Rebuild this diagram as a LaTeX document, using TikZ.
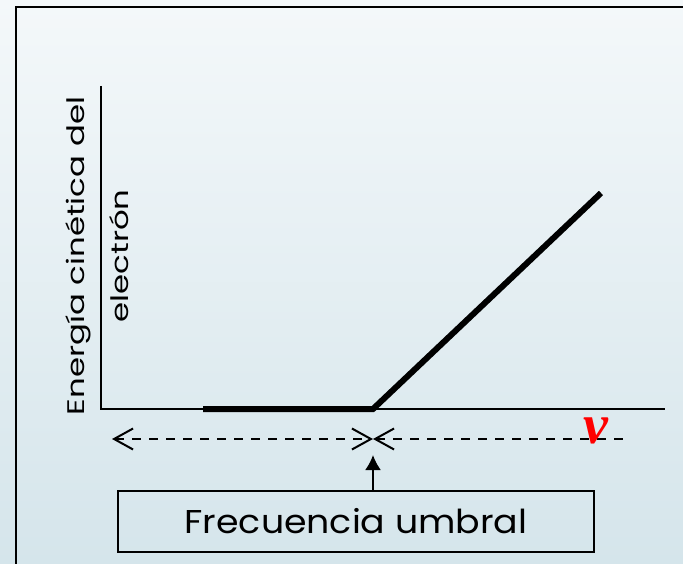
\documentclass[tikz,border=0pt]{standalone}
\usepackage{fontspec}
\setmainfont{Poppins}
\newfontfamily\anchaA[FakeStretch=1.1]{Poppins}
\newfontfamily\anchaB[FakeStretch=1.35]{Poppins}
\newfontfamily\griega{Liberation Serif}
\usetikzlibrary{arrows.meta}
\definecolor{bgtop}{HTML}{F4F8FA}
\definecolor{bgbot}{HTML}{D5E5EB}
\tikzset{
  axis/.style={line width=2pt},
  curva/.style={line width=6pt,line join=miter},
  flecha/.style={line width=2pt,dash pattern=on 9pt off 8pt},
  barb/.tip={Straight Barb[length=19pt,width=21pt,line width=2pt]}
}
\begin{document}
\begin{tikzpicture}[x=1pt,y=-1pt]
\shade[top color=bgtop,bottom color=bgbot] (0,0) rectangle (683,564);
\useasboundingbox (0,0) rectangle (683,564);
\draw[line width=2.5pt] (16,580) -- (16,7) -- (700,7);
\coordinate (O) at (101,409);
\coordinate (ytop) at (101,86);
\coordinate (xend) at (665,409);
\coordinate (a) at (203,409);
\coordinate (u) at (373,409);
\coordinate (b) at (601,193);
\coordinate (izq) at (112,439);
\coordinate (umb) at (373,439);
\coordinate (der) at (629,439);
\coordinate (pie) at (373,491);
\coordinate (punta) at (373,455);
\draw[axis] (ytop) -- (O) -- (xend);
\draw[curva] (a) -- (u) -- (b);
\draw[flecha,barb-barb] (izq) -- (umb);
\draw[flecha,barb-] (umb) -- (der);
\node[red,font=\griega\bfseries\itshape\fontsize{56}{56}\selectfont] (nu) at (596,431) {ν};
\node[draw,line width=2.5pt,minimum width=476pt,minimum height=61pt,
  font=\anchaA\fontsize{33}{33}\selectfont] (caja) at (356,521.5) {Frecuencia umbral};
\draw[line width=2pt,-{Latex[length=15pt,width=16pt]}] (pie) -- (punta);
\node[rotate=90,align=center,font=\anchaB\fontsize{24}{44}\selectfont] (ylab) at (97,256)
  {Energía cinética del\\electrón};
\end{tikzpicture}
\end{document}
